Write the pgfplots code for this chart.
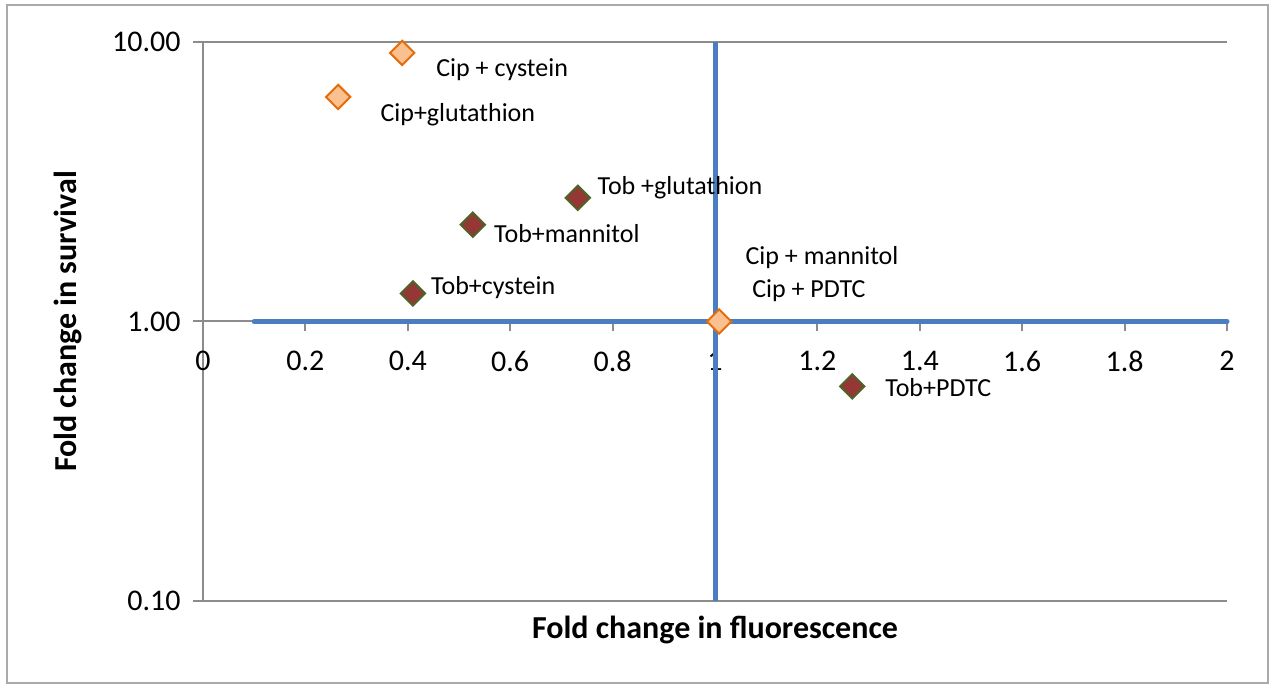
\documentclass[border=0pt]{standalone}
\usepackage{fontspec}
\setmainfont{Carlito}
\usepackage{pgfplots}
\pgfplotsset{compat=1.18}
\definecolor{gridgray}{RGB}{140,140,140}
\definecolor{frgray}{RGB}{170,170,170}
\definecolor{qblue}{RGB}{74,126,193}
\definecolor{cipfill}{RGB}{250,192,144}
\definecolor{cipedge}{RGB}{228,108,10}
\definecolor{tobfill}{RGB}{149,55,53}
\definecolor{tobedge}{RGB}{79,98,40}
\begin{document}
\begin{tikzpicture}
\begin{axis}[
  scale only axis, width=512pt, height=279.5pt,
  xmin=0, xmax=2, ymin=0.1, ymax=10, ymode=log,
  axis x line=middle, axis y line=left,
  axis line style={gridgray, line width=1pt, -},
  xtick={0,0.2,0.4,0.6,0.8,1,1.2,1.4,1.6,1.8,2},
  xticklabels={0,0.2,0.4,0.6,0.8,1,1.2,1.4,1.6,1.8,2},
  ytick={0.1,1,10}, yticklabels={0.10,1.00,10.00},
  yminorticks=false,
  ymajorgrids, grid style={gridgray, line width=1pt},
  tick style={gridgray, line width=1pt},
  major tick length=5pt, tick align=outside,
  hide obscured x ticks=false, hide obscured y ticks=false,
  ticklabel style={font=\fontsize{15}{18}\selectfont, text=black},
  xticklabel style={anchor=north, inner sep=0pt, yshift=-9.5pt},
  yticklabel style={anchor=east, inner sep=0pt, xshift=-6pt},
  /pgf/number format/assume math mode=true,
  xlabel={Fold change in fluorescence},
  ylabel={Fold change in survival},
  xlabel style={at={(axis description cs:0.5,-0.052)}, anchor=center, font=\bfseries\fontsize{16}{19}\selectfont, text=black},
  ylabel style={at={(axis description cs:-0.132,0.5)}, anchor=center, rotate=0, font=\bfseries\fontsize{16}{19}\selectfont, text=black},
  clip=false,
]
\addplot[qblue, line width=2.5pt, line cap=round] coordinates {(0.1,1) (2,1)};
\addplot[qblue, line width=2.5pt] coordinates {(1,0.1) (1,10)};
\addplot[only marks, mark=square*, mark size=4.3pt,
  mark options={rotate=45, fill=tobfill, draw=tobedge, line width=1pt}]
  coordinates {(0.732,2.77) (0.527,2.22) (0.410,1.26) (1.268,0.586)};
\addplot[only marks, mark=square*, mark size=4.3pt,
  mark options={rotate=45, fill=cipfill, draw=cipedge, line width=1pt}]
  coordinates {(0.389,9.14) (0.264,6.36) (1.008,1.0)};
\begin{scope}[every node/.style={anchor=west, inner sep=0pt, font=\fontsize{13}{15}\selectfont, text=black}]
\node at (axis cs:0.455,7.94) {Cip + cystein};
\node at (axis cs:0.346,5.49) {Cip+glutathion};
\node at (axis cs:0.770,3.01) {Tob +glutathion};
\node at (axis cs:0.568,2.06) {Tob+mannitol};
\node at (axis cs:0.445,1.32) {Tob+cystein};
\node at (axis cs:1.059,1.69) {Cip + mannitol};
\node at (axis cs:1.072,1.29) {Cip + PDTC};
\node at (axis cs:1.332,0.581) {Tob+PDTC};
\end{scope}
\draw[frgray, line width=1pt] ([xshift=-98pt,yshift=-41pt]rel axis cs:0,0) rectangle ([xshift=20.5pt,yshift=18.5pt]rel axis cs:1,1);
\coordinate (BBsw) at ([xshift=-101.5pt,yshift=-42pt]rel axis cs:0,0);
\coordinate (BBne) at ([xshift=23.5pt,yshift=21pt]rel axis cs:1,1);
\end{axis}
\pgfresetboundingbox
\useasboundingbox (BBsw) rectangle (BBne);
\end{tikzpicture}
\end{document}
